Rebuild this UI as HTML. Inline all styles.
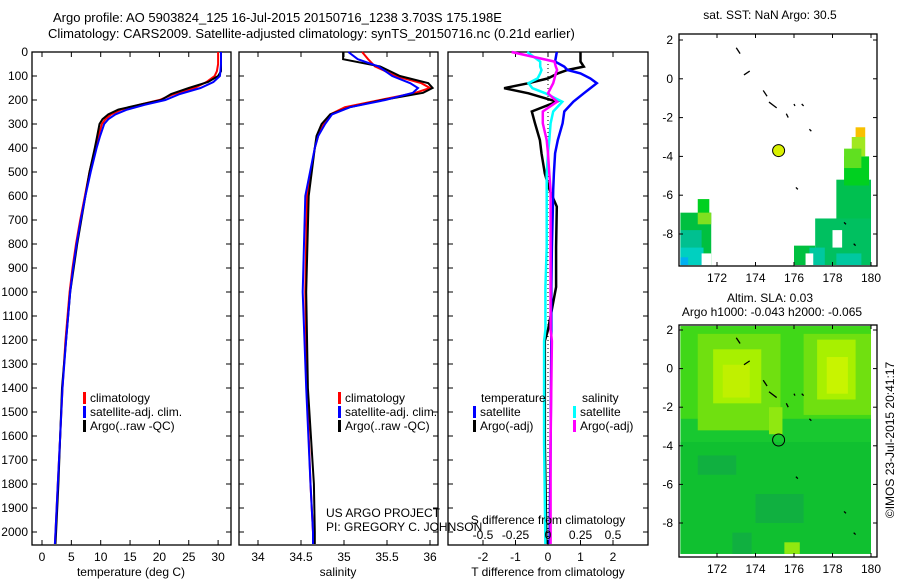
<!DOCTYPE html>
<html><head><meta charset="utf-8"><style>
body{margin:0;background:#fff;}
svg{font-family:"Liberation Sans",sans-serif;}
text{font-size:12px;fill:#000;}
</style></head><body>
<svg id="c" width="900" height="580" viewBox="0 0 900 580" xmlns="http://www.w3.org/2000/svg">
<rect width="900" height="580" fill="#fff"/>
<text x="53" y="22" style="font-size:13px">Argo profile: AO 5903824_125 16-Jul-2015 20150716_1238 3.703S 175.198E</text>
<text x="48" y="38" style="font-size:13px">Climatology: CARS2009. Satellite-adjusted climatology: synTS_20150716.nc (0.21d earlier)</text>
<g id="panels"></g>
<g id="maps"></g>
</svg>
<script>
// ---- data ----
const depthLevels=[0,50,80,100,125,150,175,200,220,240,260,280,300,350,400,500,600,700,800,900,1000,1200,1400,1600,1800,2000,2050];
const tempClim=[30.0,30.0,29.8,29.4,28,26,22.5,20,16.5,13.5,11.8,10.8,10.2,9.6,9.1,8.1,7.3,6.5,5.8,5.2,4.7,4.0,3.5,3.1,2.7,2.3,2.2];
const tempSat=[30.5,30.5,30.4,30.3,29.2,27,23.5,21,17.5,14.5,12.5,11.3,10.6,9.9,9.3,8.3,7.4,6.6,5.9,5.3,4.8,4.1,3.5,3.1,2.7,2.3,2.2];
const tempArgo=[30.5,30.5,30.5,30.0,28.3,25.0,22.0,20.3,16.5,13.0,11.3,10.3,9.8,9.4,9.0,8.1,7.4,6.7,6.0,5.4,4.8,4.1,3.4,3.1,2.8,2.4,2.3];
const salDepths=[0,30,60,100,130,150,170,200,230,260,300,350,400,600,1000,1400,1800,2000,2050];
const salClim=[35.21,35.28,35.36,35.6,35.9,36.0,35.83,35.42,35.01,34.84,34.76,34.70,34.66,34.57,34.55,34.57,34.61,34.64,34.64];
const salSat=[35.05,35.16,35.40,35.56,35.77,35.86,35.80,35.48,35.07,34.86,34.78,34.70,34.66,34.55,34.52,34.56,34.61,34.64,34.64];
const salArgo=[34.99,34.99,35.42,35.65,35.98,36.03,35.92,35.45,35.07,34.84,34.74,34.68,34.66,34.59,34.56,34.58,34.65,34.66,34.66];
const diffDepths=[0,40,61,75,89,110,130,151,172,207,248,297,367,422,506,575,644,812,979,1158,1204,1630,2050];
const dTsat=[0.27,0.22,0.5,0.6,1.0,1.3,1.5,1.3,1.1,0.78,0.5,0.45,0.3,0.22,0.18,0.16,0.15,0.12,0.1,0.1,0.1,0.08,0.05];
const dTargo=[1.0,1.0,1.1,0.6,0.3,0.0,-0.6,-1.35,-0.6,0.27,-0.5,-0.4,-0.25,-0.2,-0.1,0.05,0.27,0.25,0.25,0.0,-0.1,-0.1,-0.05];
const dSsat=[-0.16,-0.06,-0.06,-0.05,-0.06,-0.08,-0.15,-0.12,-0.02,0.11,0.04,0.02,0.01,0.0,-0.01,-0.01,-0.01,-0.01,-0.02,-0.02,-0.03,-0.03,-0.02];
const dSargo=[-0.28,0.05,0.06,0.07,0.06,0.05,0.04,0.02,0.0,0.07,-0.04,-0.04,-0.01,0.0,0.01,0.02,0.02,0.02,0.02,0.02,0.03,0.02,0.02];
const depthTicks=[0,100,200,300,400,500,600,700,800,900,1000,1100,1200,1300,1400,1500,1600,1700,1800,1900,2000];
const tempTicks=[0,5,10,15,20,25,30];
const salTicks=[34,34.5,35,35.5,36];
const dTTicks=[-2,-1,0,1,2];
const dSTicks=[-0.5,-0.25,0,0.25,0.5];
const lonTicks=[172,174,176,178,180];
const latTicks=[2,0,-2,-4,-6,-8];

const NS='http://www.w3.org/2000/svg';
const svg=document.getElementById('c');
const P=document.getElementById('panels');
const M=document.getElementById('maps');
function mk(tag,at,parent){const e=document.createElementNS(NS,tag);for(const k in at)e.setAttribute(k,at[k]);(parent||P).appendChild(e);return e;}
const yD=d=>52+d*0.24;
const Y0=52,Y1=545;
const panels=[
 {x0:32,x1:231,f:v=>42+v*5.87,name:'temperature'},
 {x0:239,x1:438,f:v=>258+(v-34)*86,name:'salinity'},
 {x0:448,x1:648,f:v=>548+v*32.5,name:'difference'}];
const fS=v=>548+v*130;

panels.forEach((p,i)=>{
 const r=mk('rect',{x:p.x0,y:Y0,width:p.x1-p.x0,height:Y1-Y0,fill:'none',stroke:'#000','stroke-width':1.3});
 
 
 depthTicks.forEach(d=>{
  mk('line',{x1:p.x0,x2:p.x0+5,y1:yD(d),y2:yD(d),stroke:'#000'});
  mk('line',{x1:p.x1,x2:p.x1-5,y1:yD(d),y2:yD(d),stroke:'#000'});
  if(i===0){const t=mk('text',{x:28,y:yD(d)+4,'text-anchor':'end'});t.textContent=d;
   
   }
 });
});
function xticks(ticks,f,lblY,top){ticks.forEach(v=>{const x=f(v);
 mk('line',{x1:x,x2:x,y1:Y1,y2:Y1-5,stroke:'#000'});
 if(top)mk('line',{x1:x,x2:x,y1:Y0,y2:Y0+5,stroke:'#000'});
 const t=mk('text',{x:x,y:lblY,'text-anchor':'middle'});t.textContent=v;
 
 });}
xticks(tempTicks,panels[0].f,561,true);
xticks(salTicks,panels[1].f,561,true);
xticks(dTTicks,panels[2].f,561,true);
function lbl(x,y,s,name,anchor){const t=mk('text',{x:x,y:y,'text-anchor':anchor||'middle'});t.textContent=s;
 
 return t;}
lbl(131,576,'temperature (deg C)','x-axis-title-temperature');
lbl(338,576,'salinity','x-axis-title-salinity');
lbl(548,576,'T difference from climatology','x-axis-title-t-diff');
// zero dotted line
const zl=mk('line',{x1:548,x2:548,y1:Y0,y2:Y1,stroke:'#000','stroke-dasharray':'1,3'});



function curve(ds,vs,f,color,name,w){
 let d='';ds.forEach((dep,i)=>{d+=(i?'L':'M')+f(vs[i]).toFixed(1)+','+yD(dep).toFixed(1);});
 const e=mk('path',{d:d,fill:'none',stroke:color,'stroke-width':w||2});
 
 }
curve(depthLevels,tempClim,panels[0].f,'#f00','temp-climatology-line');
curve(depthLevels,tempArgo,panels[0].f,'#000','temp-argo-line');
curve(depthLevels,tempSat,panels[0].f,'#00f','temp-satellite-line');
curve(salDepths,salClim,panels[1].f,'#f00','sal-climatology-line');
curve(salDepths,salArgo,panels[1].f,'#000','sal-argo-line');
curve(salDepths,salSat,panels[1].f,'#00f','sal-satellite-line');
curve(diffDepths,dTargo,panels[2].f,'#000','t-diff-argo-line',2.5);
curve(diffDepths,dTsat,panels[2].f,'#00f','t-diff-satellite-line',2.5);
curve(diffDepths,dSsat,fS,'#0ff','s-diff-satellite-line',2.5);
curve(diffDepths,dSargo,fS,'#f0f','s-diff-argo-line',2.5);

// S diff axis labels (drawn inside)
dSTicks.forEach(v=>{lbl(fS(v),539,v,'s-diff-tick-label');});
lbl(548,524,'S difference from climatology','s-diff-axis-title');
lbl(326,517,'US ARGO PROJECT','credit-project','start');
lbl(326,531,'PI: GREGORY C. JOHNSON','credit-pi','start');

function legend(x,y,color,s,name){const r=mk('rect',{x:x,y:y-10,width:3,height:12,fill:color});
 
 
 lbl(x+7,y,s,name+'-label','start');}
[[32+51,'temp'],[338,'sal']].forEach(([x,n])=>{
 legend(x,402,'#f00','climatology',n+'-legend-climatology');
 legend(x,416,'#00f','satellite-adj. clim.',n+'-legend-satellite');
 legend(x,430,'#000','Argo(..raw -QC)',n+'-legend-argo');});
lbl(481,402,'temperature','diff-legend-temperature-header','start');
legend(473,416,'#00f','satellite','diff-legend-t-satellite');
legend(473,430,'#000','Argo(-adj)','diff-legend-t-argo');
lbl(582,402,'salinity','diff-legend-salinity-header','start');
legend(573,416,'#0ff','satellite','diff-legend-s-satellite');
legend(573,430,'#f0f','Argo(-adj)','diff-legend-s-argo');

// ---- maps ----
const lonX=l=>717+(l-172)*19.25;
function mapFrame(y0,y1,latY,name){
 const g=mk('g',{},M);
 
 
 return g;}
function rect(g,lo1,la1,lo2,la2,latY,color){mk('rect',{x:lonX(lo1),y:latY(la1),width:lonX(lo2)-lonX(lo1),height:latY(la2)-latY(la1),fill:color},g);}
const lat1=l=>40+(2-l)*19.4, lat2=l=>330+(2-l)*19.3;
// map 1 (SST)
const g1=mapFrame(34,266,lat1,'sst-map');
[[170.1,-6.9,171.7,-9.6,'#00c040'],[171.0,-6.2,171.6,-7.2,'#00d020'],[171.0,-6.9,171.7,-7.5,'#80e020'],[170.1,-7.8,171.2,-9.6,'#00c090'],[170.1,-8.7,171.3,-9.6,'#00d0c0'],[170.1,-9.2,170.5,-9.6,'#00b0f0'],[171.2,-9.0,171.7,-9.6,'#fff'],
 [178.2,-5.2,180.0,-9.6,'#00c050'],[177.1,-7.2,180.0,-9.6,'#00c060'],[176.0,-8.6,177.1,-9.6,'#00c040'],[178.6,-4.0,179.9,-5.5,'#00d020'],[179.0,-3.0,179.7,-4.0,'#a0e820'],[179.2,-2.5,179.7,-3.0,'#f8c000'],[178.6,-3.6,179.5,-4.6,'#60e020'],[176.8,-8.7,177.6,-9.6,'#00c8a0'],[178.2,-9.0,179.5,-9.6,'#00c8a0'],[178.0,-7.8,178.5,-8.7,'#fff'],[176.6,-9.0,177.0,-9.6,'#fff']].forEach(r=>rect(g1,r[0],r[1],r[2],r[3],lat1,r[4]));
// map 2 (SLA)
const g2=mapFrame(325,557,lat2,'sla-map');
[[170.1,2.2,180.0,-9.6,'#18c830'],[170.1,-3.8,180.0,-9.6,'#10c030'],[170.1,2.2,180.0,-2.6,'#40d818'],[171.0,1.8,175.3,-3.2,'#70e010'],[176.5,1.8,180.0,-2.4,'#70e010'],[171.8,1.0,174.3,-1.8,'#a8f000'],[172.3,0.2,173.7,-1.5,'#c0f000'],[177.2,1.5,179.2,-1.6,'#a8f000'],[177.7,0.6,178.8,-1.3,'#c8f400'],[174.7,-2.0,175.4,-3.4,'#90e810'],[171.0,-4.5,173.0,-5.5,'#10b040'],[174.0,-6.5,176.5,-8.0,'#10b040'],[172.8,-8.5,173.8,-9.6,'#10b040'],[175.5,-9.0,176.3,-9.6,'#90e810']].forEach(r=>rect(g2,r[0],r[1],r[2],r[3],lat2,r[4]));
[[34,266,lat1,'sst-map-frame'],[325,557,lat2,'sla-map-frame']].forEach(([y0,y1,lf,n])=>{
 const r=mk('rect',{x:679,y:y0,width:198,height:y1-y0,fill:'none',stroke:'#000','stroke-width':1.3},M);
 
 
 lonTicks.forEach(l=>{mk('line',{x1:lonX(l),x2:lonX(l),y1:y0,y2:y0+4,stroke:'#000'},M);mk('line',{x1:lonX(l),x2:lonX(l),y1:y1,y2:y1-4,stroke:'#000'},M);
  const t=mk('text',{x:lonX(l),y:y1+16,'text-anchor':'middle'},M);t.textContent=l;
  
  });
 latTicks.forEach(l=>{mk('line',{x1:679,x2:683,y1:lf(l),y2:lf(l),stroke:'#000'},M);mk('line',{x1:877,x2:873,y1:lf(l),y2:lf(l),stroke:'#000'},M);
  const t=mk('text',{x:673,y:lf(l)+4,'text-anchor':'end'},M);t.textContent=l;
  
  });
});
// islands
[[173,1.6,173.2,1.3],[173.4,0.2,173.7,0.4],[174.4,-0.6,174.6,-0.9],[174.7,-1.2,175.1,-1.5],[175.6,-1.8,175.7,-2.0],[176,-1.3,176.05,-1.4],[176.4,-1.3,176.5,-1.4],[176.8,-2.6,176.9,-2.7],[176.1,-5.6,176.2,-5.7],[178.6,-7.4,178.7,-7.5],[179.1,-8.5,179.2,-8.6]].forEach(a=>{
 [lat1,lat2].forEach(lf=>{const e=mk('path',{d:`M${lonX(a[0])},${lf(a[1])}L${lonX(a[2])},${lf(a[3])}`,stroke:'#000','stroke-width':1.3,fill:'none'},M);
 
 });});
const d1=mk('circle',{cx:lonX(175.2),cy:lat1(-3.7),r:6,fill:'#d8f000',stroke:'#000'},M);


const d2=mk('circle',{cx:lonX(175.2),cy:lat2(-3.7),r:6,fill:'none',stroke:'#000'},M);


const tl=[[770,19,'sat. SST: NaN Argo: 30.5','sst-map-title'],[770,302,'Altim. SLA: 0.03','sla-map-title'],[772,316,'Argo h1000: -0.043 h2000: -0.065','argo-height-title']];
tl.forEach(a=>{const t=mk('text',{x:a[0],y:a[1],'text-anchor':'middle'},M);t.textContent=a[2];
 
 });
const cr=mk('text',{x:0,y:0,'text-anchor':'middle',transform:'translate(894,440) rotate(-90)'},M);
cr.textContent='©IMOS 23-Jul-2015 20:41:17';


</script>
</body></html>
